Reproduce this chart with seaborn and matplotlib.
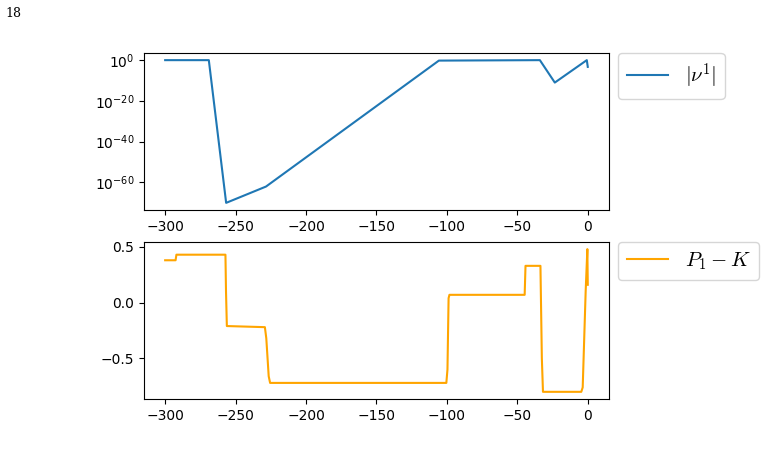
import numpy as np
import pandas as pd
import seaborn as sns
import matplotlib.pyplot as plt

plt.rcParams["mathtext.fontset"] = "cm"

# |nu^1| on a log scale (breakpoints)
t_nu = [-300, -269, -256.7, -228.4, -105.7, -34, -23.4, -0.7, 0]
nu_abs = [1.0, 1.0, 1e-70, 1e-62, 0.6, 1.0, 1e-11, 1.0, 5e-4]

# P_1 - K, breakpoints with short smooth transitions
t_p = [-300, -292.6, -292.0, -257.2, -256.8, -256.2, -229.2, -228.2, -226.5, -225.5,
       -100.4, -99.6, -98.8, -98.2, -44.8, -44.2, -33.6, -32.6, -31.8,
       -4.6, -3.6, -1.5, -0.3, 0]
p_minus_k = [0.38, 0.38, 0.43, 0.43, 0.10, -0.21, -0.22, -0.32, -0.66, -0.72,
             -0.72, -0.60, 0.04, 0.07, 0.07, 0.33, 0.33, -0.50, -0.80,
             -0.80, -0.76, 0.10, 0.48, 0.16]

df_nu = pd.DataFrame({"t": t_nu, "v": nu_abs})
df_p = pd.DataFrame({"t": t_p, "v": p_minus_k})

fig = plt.figure(figsize=(7.64, 4.57), dpi=100)
ax1 = fig.add_axes([0.1885, 0.5405, 0.6085, 0.3435])
ax2 = fig.add_axes([0.1885, 0.127, 0.6085, 0.3435])

sns.lineplot(data=df_nu, x="t", y="v", ax=ax1, color="#1f77b4", label=r"$|\nu^1|$",
             sort=False, estimator=None)
ax1.set_yscale("log")
ax1.set_yticks([1, 1e-20, 1e-40, 1e-60])
ax1.minorticks_off()

sns.lineplot(data=df_p, x="t", y="v", ax=ax2, color="orange", label=r"$P_1 - K$",
             sort=False, estimator=None)
ax2.set_yticks([0.5, 0.0, -0.5])

for ax in (ax1, ax2):
    ax.set_xlabel("")
    ax.set_ylabel("")
    ax.set_xticks([-300, -250, -200, -150, -100, -50, 0])
    ax.legend(loc="upper left", bbox_to_anchor=(1.02, 1.0), borderaxespad=0,
              fontsize=15)

fig.text(0.007, 0.962, "18", family="DejaVu Serif", fontsize=9)

plt.savefig("out.png", dpi=100)
